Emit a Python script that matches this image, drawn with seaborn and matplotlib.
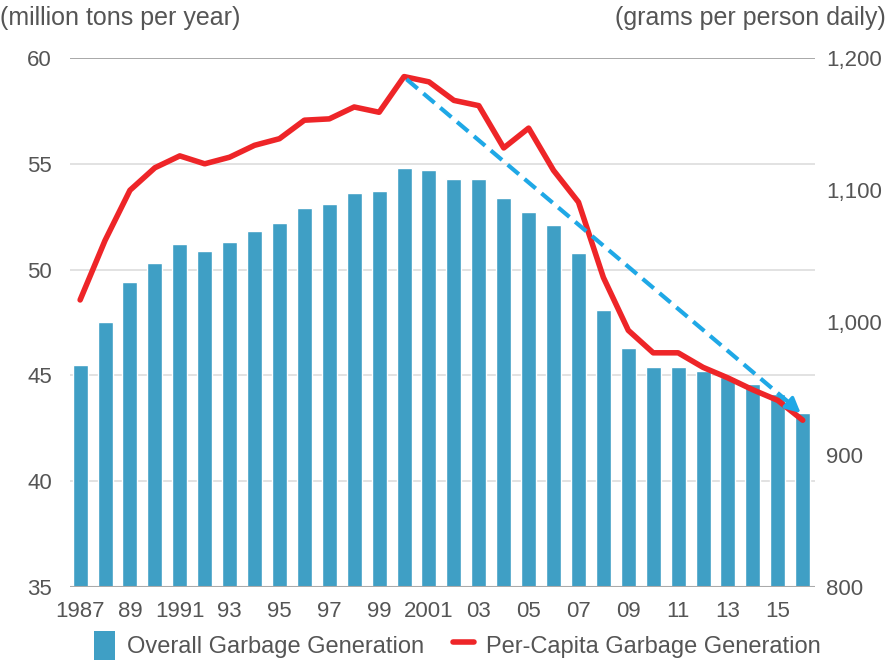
import pandas as pd
import seaborn as sns
import matplotlib.pyplot as plt
from matplotlib.patches import Patch
from matplotlib.lines import Line2D

years = list(range(1987, 2017))
overall = [45.5, 47.5, 49.4, 50.3, 51.2, 50.9, 51.3, 51.8, 52.2, 52.9,
           53.1, 53.6, 53.7, 54.8, 54.7, 54.3, 54.3, 53.4, 52.7, 52.1,
           50.8, 48.1, 46.3, 45.4, 45.4, 45.2, 44.9, 44.6, 44.1, 43.2]
per_capita = [1017, 1062, 1100, 1117, 1126, 1120, 1125, 1134, 1139, 1153,
              1154, 1163, 1159, 1186, 1182, 1168, 1164, 1132, 1147, 1115,
              1091, 1034, 994, 977, 977, 966, 958, 949, 941, 926]
tick_years = list(range(1987, 2017, 2))
tick_labels = ["1987", "89", "1991", "93", "95", "97", "99", "2001",
               "03", "05", "07", "09", "11", "13", "15"]
left_ticks = [35, 40, 45, 50, 55, 60]
right_ticks = [800, 900, 1000, 1100, 1200]

df = pd.DataFrame({"year": years, "overall": overall, "per_capita": per_capita})

sns.set_style("white")
plt.rcParams["font.family"] = ["Liberation Sans", "DejaVu Sans"]

bar_color = "#3f9fc5"
line_color = "#ee2528"
arrow_color = "#1fa8e6"
text_color = "#555555"

fig = plt.figure(figsize=(8.88, 6.6), dpi=100)
ax = fig.add_axes([0.079, 0.111, 0.839, 0.801])

sns.barplot(data=df, x="year", y="overall", native_scale=True, color=bar_color,
            width=0.6, saturation=1, ax=ax, zorder=2)
ax.set_ylim(35, 60)
ax.set_xlim(1986.6, 2016.5)
ax.set_yticks(left_ticks)
for t in left_ticks[1:-1]:
    ax.axhline(t, color="#dddddd", lw=1.2, zorder=1)
ax.axhline(60, color="#999999", lw=1.2, zorder=1)
ax.axhline(35, color="#aaaaaa", lw=1.5, zorder=3)
ax.set_xticks(tick_years)
ax.set_xticklabels(tick_labels)
ax.tick_params(axis="y", length=0, labelsize=16, colors=text_color, pad=13)
ax.tick_params(axis="x", length=0, labelsize=16, colors=text_color, pad=10)
ax.set_xlabel("")
ax.set_ylabel("")
sns.despine(ax=ax, left=True, bottom=True)

ax2 = ax.twinx()
sns.lineplot(data=df, x="year", y="per_capita", color=line_color, lw=4, ax=ax2,
             zorder=4)
ax2.set_ylim(800, 1200)
ax2.set_yticks(right_ticks)
ax2.set_yticklabels([f"{v:,}" for v in right_ticks])
ax2.tick_params(axis="y", length=0, labelsize=16, colors=text_color, pad=8)
ax2.set_ylabel("")
ax2.set_xlabel("")
sns.despine(ax=ax2, left=True, bottom=True, right=True)

# dashed trend arrow from the 2000 peak to 2016
x0, y0 = years[13] + 0.1, per_capita[13] - 2
x1, y1 = years[-1], per_capita[-1] + 4
ax2.plot([x0, x1 - 0.5], [y0, y1 + 8.5], color=arrow_color, lw=3,
         ls=(0, (3.5, 1.8)), zorder=5)
ax2.annotate("", xy=(x1, y1), xytext=(x1 - 0.6, y1 + 10),
             arrowprops=dict(arrowstyle="-|>,head_length=0.9,head_width=0.45",
                             color=arrow_color, lw=2.5), zorder=5)

fig.text(0.0, 0.972, "(million tons per year)", fontsize=18, color=text_color,
         ha="left", va="center")
fig.text(0.997, 0.972, "(grams per person daily)", fontsize=18, color=text_color,
         ha="right", va="center")

handles = [Patch(facecolor=bar_color, edgecolor="none"),
           Line2D([0], [0], color=line_color, lw=4)]
fig.legend(handles, ["Overall Garbage Generation", "Per-Capita Garbage Generation"],
           loc="center", bbox_to_anchor=(0.515, 0.022), ncol=2, frameon=False,
           fontsize=17, labelcolor=text_color, handlelength=0.9, handleheight=1.5,
           handletextpad=0.5, columnspacing=1.2)

fig.savefig("out.png", dpi=100)
